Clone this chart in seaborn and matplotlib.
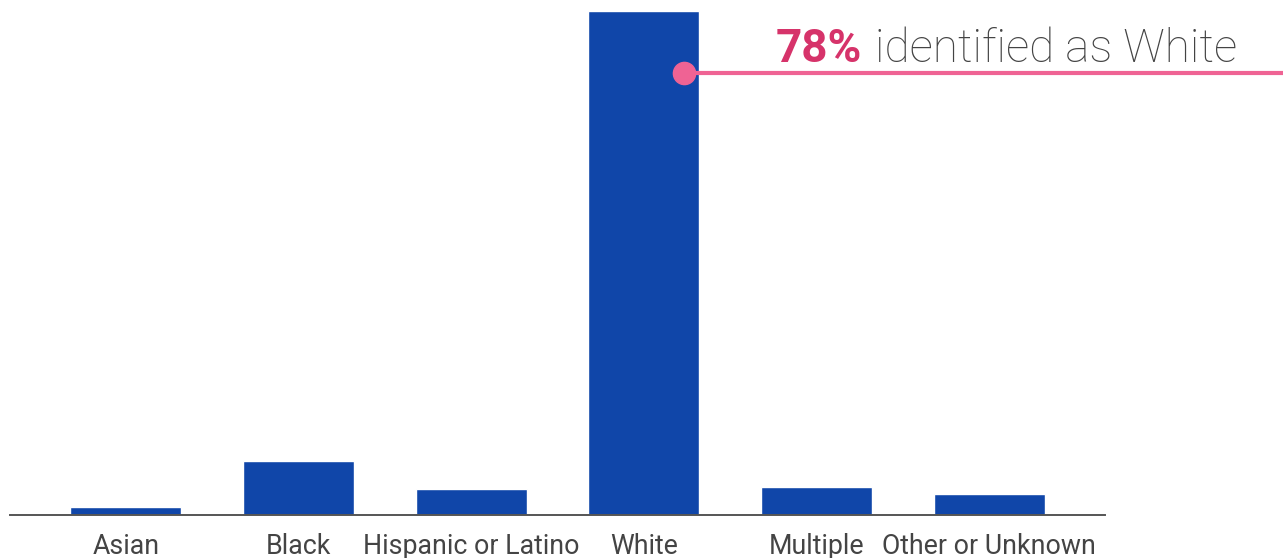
import matplotlib
matplotlib.use("Agg")
import matplotlib.pyplot as plt
import seaborn as sns
import pandas as pd
from matplotlib.lines import Line2D

categories = ["Asian", "Black", "Hispanic or Latino", "White", "Multiple", "Other or Unknown"]
values = [1.2, 8.3, 4.0, 78.0, 4.2, 3.1]

BAR = "#1046A9"
PINK = "#EF6394"
CRIMSON = "#D6336A"
GRAY = "#444444"

sns.set_theme(style="white")
plt.rcParams["font.family"] = ["Roboto", "DejaVu Sans"]

W, H = 1283, 558
fig = plt.figure(figsize=(W / 100, H / 100), dpi=100)
ax = fig.add_axes([10 / W, 43.5 / H, 1095 / W, 503.5 / H])

df = pd.DataFrame({"cat": categories, "val": values})
sns.barplot(data=df, x="cat", y="val", color=BAR, saturation=1, width=0.643, ax=ax)

ax.set_xlim(-0.67, len(categories) - 1 + 0.67)
ax.set_ylim(0, max(values))
ax.set_xlabel("")
ax.set_ylabel("")
ax.set_yticks([])
for s in ["top", "right", "left"]:
    ax.spines[s].set_visible(False)
ax.spines["bottom"].set_color("#555555")
ax.spines["bottom"].set_linewidth(1.4)
ax.tick_params(axis="x", length=0, pad=13, labelsize=19.3, labelcolor=GRAY)

# annotation: dot + line to right edge
dx, dy = 684 / W, 1 - 73 / H
fig.add_artist(Line2D([dx, 1.0], [dy, dy], transform=fig.transFigure, color=PINK, lw=3, zorder=5))
fig.add_artist(Line2D([dx], [dy], transform=fig.transFigure, marker="o", markersize=16,
                      color=PINK, lw=0, zorder=6))

ty = 1 - 62 / H
fig.text(1237 / W, ty, "identified as White", ha="right", va="baseline",
         fontsize=33, color=GRAY, fontweight="light")
fig.text(862 / W, ty, "78%", ha="right", va="baseline",
         fontsize=33, color=CRIMSON, fontweight="bold")

fig.savefig("out.png", dpi=100)
